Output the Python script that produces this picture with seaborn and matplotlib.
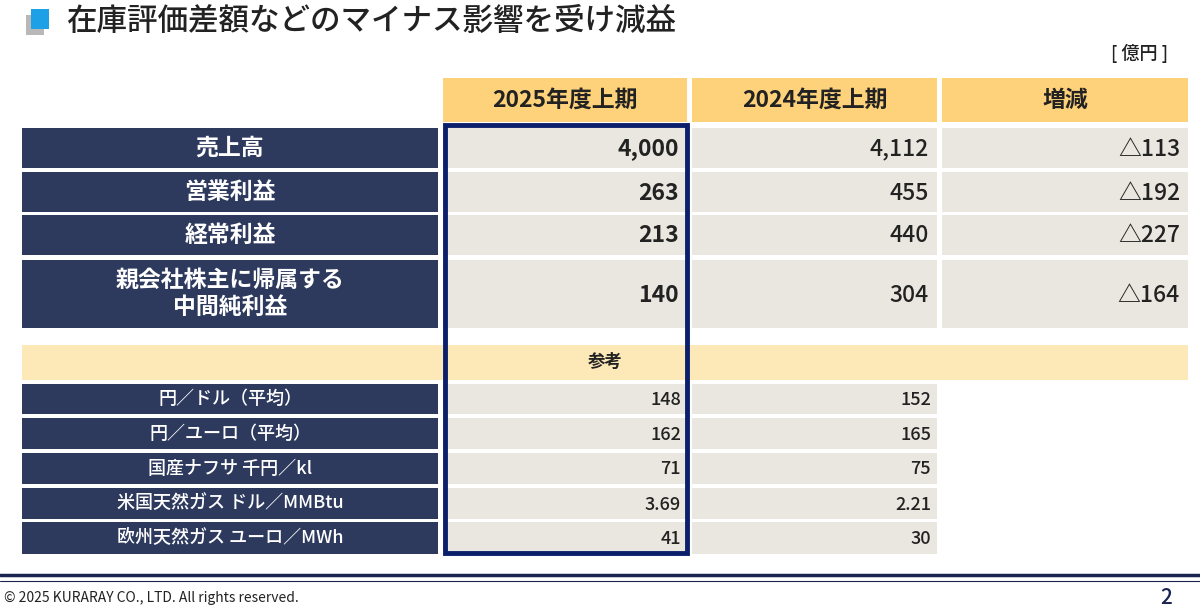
import matplotlib
matplotlib.use("Agg")
import matplotlib.pyplot as plt
import matplotlib.patches as mp
import seaborn as sns

sns.set_theme(style="white")
plt.rcParams['font.family'] = ['Noto Sans CJK JP', 'DejaVu Sans']

title = "在庫評価差額などのマイナス影響を受け減益"
unit = "[ 億円 ]"
headers = ["2025年度上期", "2024年度上期", "増減"]
main_labels = ["売上高", "営業利益", "経常利益", "親会社株主に帰属する\n中間純利益"]
main_2025 = ["4,000", "263", "213", "140"]
main_2024 = ["4,112", "455", "440", "304"]
main_diff = ["△113", "△192", "△227", "△164"]
ref_title = "参考"
ref_labels = ["円／ドル（平均）", "円／ユーロ（平均）", "国産ナフサ 千円／kl", "米国天然ガス ドル／MMBtu", "欧州天然ガス ユーロ／MWh"]
ref_2025 = ["148", "162", "71", "3.69", "41"]
ref_2024 = ["152", "165", "75", "2.21", "30"]
footer = "© 2025 KURARAY CO., LTD. All rights reserved."
page = "2"

NAVY = "#2d3a5e"; YEL = "#fdd27a"; LYEL = "#fde8b8"; GRAY = "#e9e7df"; BLUE = "#0b1f6b"

fig = plt.figure(figsize=(12, 6.16), dpi=100)
ax = fig.add_axes([0, 0, 1, 1])
ax.set_xlim(0, 1200); ax.set_ylim(616, 0); ax.axis("off")

def rect(x0, x1, y0, y1, c):
    ax.add_patch(mp.Rectangle((x0, y0), x1 - x0, y1 - y0, color=c, lw=0))

# title
rect(26, 44, 15, 35, "#b8b8b8")
rect(31, 49, 9, 29, "#1ea0e6")
ax.text(66, 21, title, fontsize=22, weight="medium", va="center", ha="left", color="#222")
ax.text(1168, 53, unit, fontsize=13, weight="medium", va="center", ha="right", color="#222")

cols = [(443, 687), (692, 937), (942, 1188)]
for (x0, x1), h in zip(cols, headers):
    rect(x0, x1, 78, 122, YEL)
    ax.text((x0 + x1) / 2, 100, h, fontsize=16.5, weight="bold", ha="center", va="center", color="#222")

main_rows = [(128, 168), (172, 212), (215, 255), (260, 328)]
for (y0, y1), lab, a, b, d in zip(main_rows, main_labels, main_2025, main_2024, main_diff):
    rect(22, 438, y0, y1, NAVY)
    ax.text(230, (y0 + y1) / 2, lab, fontsize=16.5, weight="bold", ha="center", va="center", color="white", linespacing=1.2)
    for (x0, x1), v in zip(cols, [a, b, d]):
        rect(x0, x1, y0, y1, GRAY)
        ax.text(x1 - 8, (y0 + y1) / 2 + 1, v, fontsize=16.5, weight="bold" if v == a else "medium",
                ha="right", va="center", color="#222")

rect(22, 1188, 345, 380, LYEL)
ax.text(605, 362, ref_title, fontsize=12.5, weight="bold", ha="center", va="center", color="#222")

ref_rows = [(384, 414), (418, 449), (453, 484), (488, 519), (522, 554)]
for (y0, y1), lab, a, b in zip(ref_rows, ref_labels, ref_2025, ref_2024):
    rect(22, 438, y0, y1, NAVY)
    ax.text(230, (y0 + y1) / 2, lab, fontsize=13, weight="medium", ha="center", va="center", color="white")
    for (x0, x1), v in zip(cols[:2], [a, b]):
        rect(x0, x1, y0, y1, GRAY)
        ax.text(x1 - 6, (y0 + y1) / 2 + 1, v, fontsize=13, weight="medium", ha="right", va="center", color="#222")

ax.add_patch(mp.Rectangle((445, 125), 242, 428, fill=False, ec=BLUE, lw=3.5))

ax.plot([0, 1200], [575, 575], color="#1a2450", lw=2.5)
ax.plot([0, 1200], [581, 581], color="#1a2450", lw=0.8)
ax.text(4, 598, footer, fontsize=10, ha="left", va="center", color="#222")
ax.text(1172, 598, page, fontsize=15, weight="medium", ha="right", va="center", color="#1a2450")

fig.savefig("out.png", dpi=100)
